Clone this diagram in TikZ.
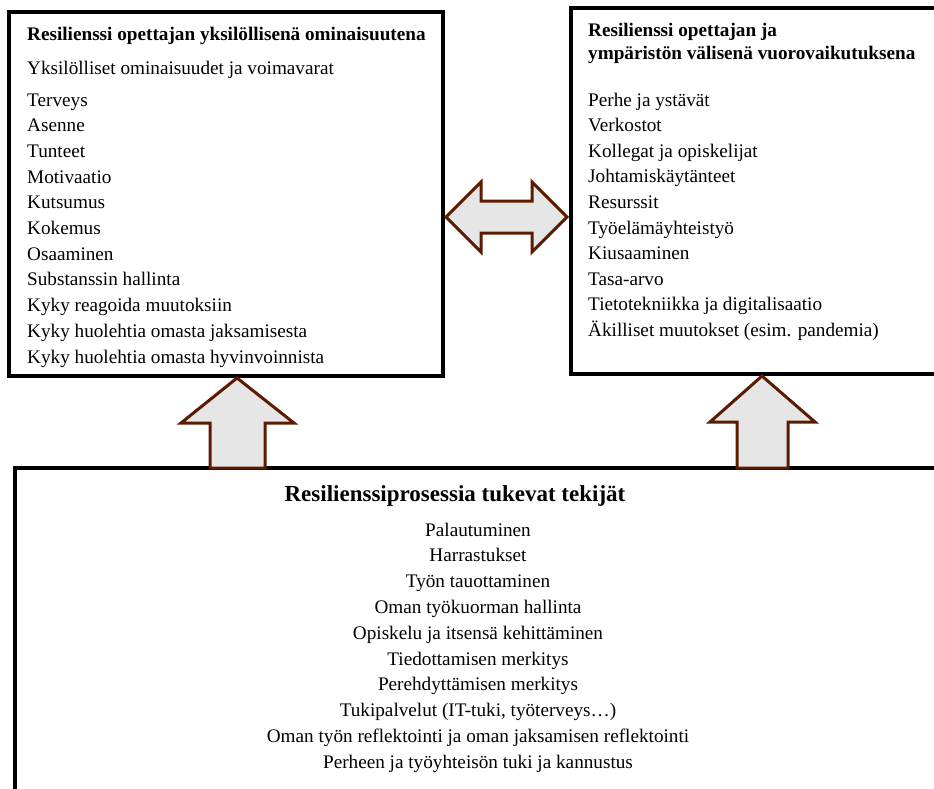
\documentclass[tikz,border=0pt]{standalone}
\usepackage{fontspec}
\setmainfont{Liberation Serif}
\definecolor{arrowline}{HTML}{5C1A00}
\definecolor{arrowfill}{HTML}{E6E6E6}
\begin{document}
\begin{tikzpicture}[x=1pt,y=-1pt,
  panel/.style={draw=black,line width=4pt,fill=white},
  blockarrow/.style={draw=arrowline,fill=arrowfill,line width=3pt,line join=miter},
  item/.style={anchor=base west,inner sep=0pt,font=\fontsize{19.2}{22}\selectfont},
  heading/.style={item,font=\fontsize{19.2}{22}\selectfont\bfseries},
  citem/.style={anchor=base,inner sep=0pt,font=\fontsize{19.2}{22}\selectfont},
  cheading/.style={anchor=base,inner sep=0pt,font=\fontsize{23}{26}\selectfont\bfseries}]
\useasboundingbox (0,0) rectangle (934,788);
\clip (0,0) rectangle (934,788);

% panels
\draw[panel] (9,12) rectangle (443,376);
\draw[panel] (571,8) rectangle (950,374);
\draw[panel] (15,468) rectangle (950,800);

% left panel: individual properties
\node[heading] (t1) at (27,40) {Resilienssi opettajan yksilöllisenä ominaisuutena};
\node[item] (s1) at (27,74) {Yksilölliset ominaisuudet ja voimavarat};
\foreach \txt [count=\i from 0] in {Terveys,Asenne,Tunteet,Motivaatio,Kutsumus,Kokemus,Osaaminen,Substanssin hallinta,Kyky reagoida muutoksiin,Kyky huolehtia omasta jaksamisesta,Kyky huolehtia omasta hyvinvoinnista}
  \node[item] (a\i) at (27,106+25.7*\i) {\txt};

% right panel: interaction with the environment
\node[heading] (t2a) at (588,36) {Resilienssi opettajan ja};
\node[heading] (t2b) at (588,59) {ympäristön välisenä vuorovaikutuksena};
\foreach \txt [count=\i from 0] in {Perhe ja ystävät,Verkostot,Kollegat ja opiskelijat,Johtamiskäytänteet,Resurssit,Työelämäyhteistyö,Kiusaaminen,Tasa-arvo,Tietotekniikka ja digitalisaatio,Äkilliset muutokset (esim. pandemia)}
  \node[item] (b\i) at (588,106+25.6*\i) {\txt};

% bottom panel: supporting factors
\node[cheading] (t3) at (455,501) {Resilienssiprosessia tukevat tekijät};
\foreach \txt [count=\i from 0] in {Palautuminen,Harrastukset,Työn tauottaminen,Oman työkuorman hallinta,Opiskelu ja itsensä kehittäminen,Tiedottamisen merkitys,Perehdyttämisen merkitys,{Tukipalvelut (IT-tuki, työterveys…)},Oman työn reflektointi ja oman jaksamisen reflektointi,Perheen ja työyhteisön tuki ja kannustus}
  \node[citem] (c\i) at (478,536+25.8*\i) {\txt};

% block arrows
\draw[blockarrow] (446,217) -- (481,182) -- (481,201) -- (532,201) -- (532,182)
  -- (567,217) -- (532,252) -- (532,233) -- (481,233) -- (481,252) -- cycle;
\draw[blockarrow] (237,378) -- (294,423) -- (265,423) -- (265,468) -- (210,468)
  -- (210,423) -- (181,423) -- cycle;
\draw[blockarrow] (762,376) -- (815,422) -- (788,422) -- (788,468) -- (737,468)
  -- (737,422) -- (710,422) -- cycle;
\end{tikzpicture}
\end{document}
